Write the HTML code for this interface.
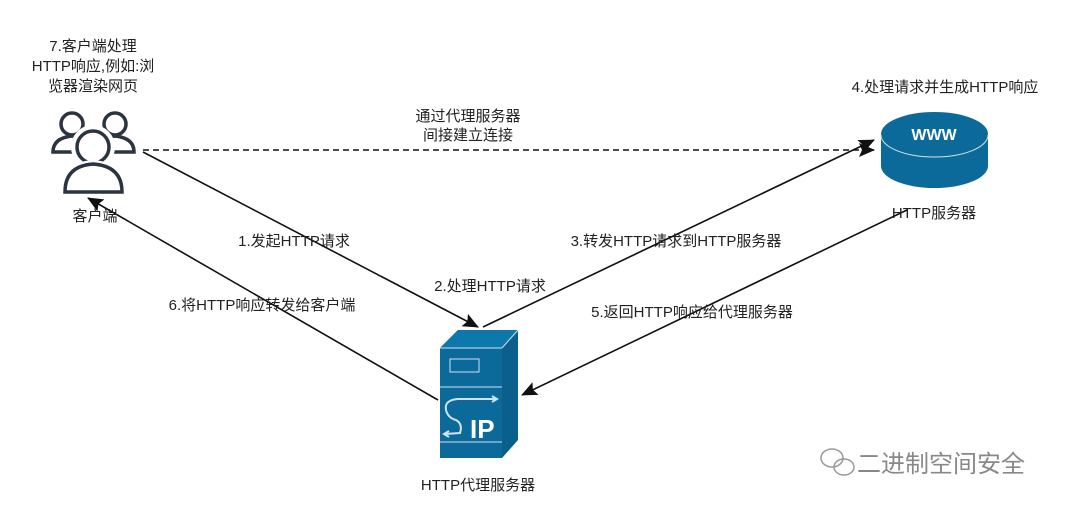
<!DOCTYPE html>
<html><head><meta charset="utf-8"><style>
body{margin:0;background:#fff;width:1080px;height:510px;overflow:hidden}
svg text{font-family:"Liberation Sans","Noto Sans CJK SC",sans-serif;font-size:15px;fill:#222}
</style></head><body>
<svg width="1080" height="510" viewBox="0 0 1080 510">
<defs><marker id="b" markerWidth="16" markerHeight="14" refX="15" refY="7" orient="auto" markerUnits="userSpaceOnUse"><path d="M0,0 L16,7 L0,14 L3,7 Z" fill="#111"/></marker></defs>
<g stroke="#111" stroke-width="1.6" fill="none">
<line x1="143" y1="150" x2="874" y2="150" stroke-dasharray="6,4" marker-end="url(#b)"/>
<line x1="143" y1="152" x2="478" y2="327" marker-end="url(#b)"/>
<line x1="483" y1="327" x2="874" y2="140" marker-end="url(#b)"/>
<line x1="907" y1="210" x2="522" y2="395" marker-end="url(#b)"/>
<line x1="438" y1="400" x2="88" y2="198" marker-end="url(#b)"/>
</g>
<g stroke="#2b3440" stroke-width="3.5" fill="#fff">
<circle cx="72" cy="124" r="11"/>
<path d="M53,152 Q53,138 72,136 Q91,138 91,152 Z"/>
<circle cx="115" cy="124" r="11"/>
<path d="M96,152 Q96,138 115,136 Q134,138 134,152 Z"/>
<circle cx="93" cy="147" r="18" stroke="#fff" stroke-width="8"/>
<circle cx="93" cy="147" r="16"/>
<path d="M65,192 Q65,166 93,164 Q122,166 122,192 Z" stroke="#fff" stroke-width="8"/>
<path d="M65,192 Q65,166 93,164 Q122,166 122,192 Z"/>
</g>
<path d="M881,135 L881,166 A53.5,22 0 0 0 988,166 L988,135 Z" fill="#0b6a9a"/>
<ellipse cx="934.5" cy="134" rx="53.5" ry="22" fill="#0b6a9a"/>
<path d="M881,135 A53.5,22 0 0 0 988,135" stroke="#cfe3ee" stroke-width="1" fill="none"/>
<text x="934" y="140" text-anchor="middle" style="fill:#fff;font-weight:bold;font-size:16px">WWW</text>
<path d="M440,348 L458,330 L518,330 L518,440 L502,458 L502,348 Z" fill="#0a5f8c"/>
<rect x="440" y="348" width="62" height="110" fill="#0b6a9a"/>
<path d="M440,348 L458,330 L518,330 L502,348 Z" fill="#0d78ab"/>
<g stroke="#cfe3ee" stroke-width="1" fill="none">
<line x1="440" y1="348" x2="502" y2="348"/><line x1="502" y1="348" x2="518" y2="330"/>
<rect x="450" y="359" width="29" height="13"/>
<line x1="440" y1="387" x2="502" y2="387"/>
<line x1="440" y1="442" x2="502" y2="442"/>
<path d="M496,399 L458,399 Q444,400 446,410 Q448,418 456,420 Q463,424 460,433 L445,434" stroke-width="2"/>
<path d="M492,396 L497,399 L492,402" stroke-width="2"/><path d="M449,431 L444,434 L449,437" stroke-width="2"/>
</g>
<text x="470" y="438" style="fill:#fff;font-weight:bold;font-size:26px">IP</text>
<text x="93" y="51" text-anchor="middle">7.客户端处理</text>
<text x="93" y="71" text-anchor="middle">HTTP响应,例如:浏</text>
<text x="93" y="91" text-anchor="middle">览器渲染网页</text>
<text x="95" y="221" text-anchor="middle">客户端</text>
<text x="468" y="121" text-anchor="middle">通过代理服务器</text>
<text x="468" y="140" text-anchor="middle">间接建立连接</text>
<text x="945" y="92" text-anchor="middle">4.处理请求并生成HTTP响应</text>
<text x="934" y="218" text-anchor="middle">HTTP服务器</text>
<text x="294" y="246" text-anchor="middle">1.发起HTTP请求</text>
<text x="676" y="246" text-anchor="middle">3.转发HTTP请求到HTTP服务器</text>
<text x="490" y="291" text-anchor="middle">2.处理HTTP请求</text>
<text x="262" y="310" text-anchor="middle">6.将HTTP响应转发给客户端</text>
<text x="692" y="317" text-anchor="middle">5.返回HTTP响应给代理服务器</text>
<text x="478" y="490" text-anchor="middle">HTTP代理服务器</text>
<g fill="none" stroke="#999" stroke-width="1.5"><ellipse cx="832" cy="458" rx="11" ry="9"/><ellipse cx="844" cy="467" rx="10" ry="8"/></g>
<text x="857" y="472" style="font-size:24px;fill:#888">二进制空间安全</text>
</svg>
</body></html>
